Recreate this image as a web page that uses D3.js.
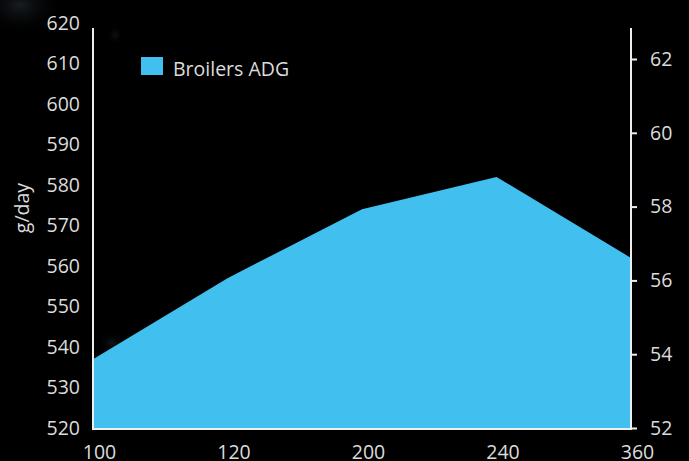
<!DOCTYPE html>
<html><head><meta charset="utf-8">
<script src="https://cdn.jsdelivr.net/npm/d3@7"></script>
<style>
html,body{margin:0;padding:0;background:#000;overflow:hidden;}
text{font-family:"Open Sans","Noto Sans",sans-serif;}
</style></head>
<body>
<svg id="chart" width="689" height="461"></svg>
<script>
const categories = ["100","120","200","240","360"];
const adgValues = [537, 557, 574, 582, 562];
const leftTicks = [520,530,540,550,560,570,580,590,600,610,620];
const rightTicks = [52,54,56,58,60,62];
const seriesName = "Broilers ADG";
const yLabel = "g/day";

(function(){
const svg = d3.select("#chart");
const W = 689, H = 461;
const pLeft = 93, pRight = 631, pTop = 23, pBottom = 428;
const fs = 19.5, txt = "#dcdcdc";

const defs = svg.append("defs");
const g1 = defs.append("radialGradient").attr("id","glow");
g1.append("stop").attr("offset","0%").attr("stop-color","#2a3540").attr("stop-opacity",0.55);
g1.append("stop").attr("offset","100%").attr("stop-color","#000").attr("stop-opacity",0);
svg.append("rect").attr("width",W).attr("height",H).attr("fill","#000");
svg.append("ellipse").attr("cx",20).attr("cy",5).attr("rx",45).attr("ry",30).attr("fill","url(#glow)");
svg.append("ellipse").attr("cx",115).attr("cy",35).attr("rx",8).attr("ry",10).attr("fill","url(#glow)").attr("opacity",0.6);
svg.append("ellipse").attr("cx",112).attr("cy",343).attr("rx",14).attr("ry",12).attr("fill","url(#glow)").attr("opacity",0.7);

const x = d3.scalePoint().domain(categories).range([pLeft, pRight]);
const y = d3.scaleLinear().domain([520, 620]).range([pBottom, pTop]);
const y2 = d3.scaleLinear().domain([52, 62]).range([pBottom, 59]);

const data = categories.map((c,i)=>({c, v: adgValues[i]}));
const area = d3.area().x(d=>x(d.c)).y0(y(520)).y1(d=>y(d.v));
svg.append("path").datum(data).attr("d", area).attr("fill","#41BFEE");

const la = svg.append("g").attr("transform",`translate(${pLeft},0)`)
  .call(d3.axisLeft(y).tickValues(leftTicks).tickSize(0).tickPadding(13));
la.select(".domain").remove();
la.selectAll("text").attr("fill",txt).attr("font-size",fs);
svg.append("line").attr("x1",pLeft).attr("x2",pLeft).attr("y1",28).attr("y2",pBottom+1)
  .attr("stroke","#eee").attr("stroke-width",2);

const ra = svg.append("g").attr("transform",`translate(${pRight},0)`)
  .call(d3.axisRight(y2).tickValues(rightTicks).tickSize(6).tickPadding(13));
ra.select(".domain").remove();
ra.selectAll("line").attr("stroke","#eee").attr("stroke-width",2);
ra.selectAll("text").attr("fill",txt).attr("font-size",fs);
svg.append("line").attr("x1",pRight).attr("x2",pRight).attr("y1",28).attr("y2",pBottom+1)
  .attr("stroke","#eee").attr("stroke-width",2);

const ba = svg.append("g").attr("transform",`translate(0,${pBottom+1})`)
  .call(d3.axisBottom(x).tickSize(0).tickPadding(16));
ba.select(".domain").remove();
ba.selectAll("text").attr("fill",txt).attr("font-size",fs).attr("dx",6);
svg.append("line").attr("x1",pLeft-1).attr("x2",pRight+1).attr("y1",pBottom+1).attr("y2",pBottom+1)
  .attr("stroke","#eee").attr("stroke-width",2);

svg.append("text").attr("transform","translate(29,208) rotate(-90)")
  .attr("text-anchor","middle").attr("fill",txt).attr("font-size",fs).text(yLabel);

svg.append("rect").attr("x",141).attr("y",57).attr("width",22).attr("height",18).attr("fill","#41BFEE");
svg.append("text").attr("x",173).attr("y",76).attr("fill",txt).attr("font-size",19.5).text(seriesName);
})();
</script>
</body></html>
